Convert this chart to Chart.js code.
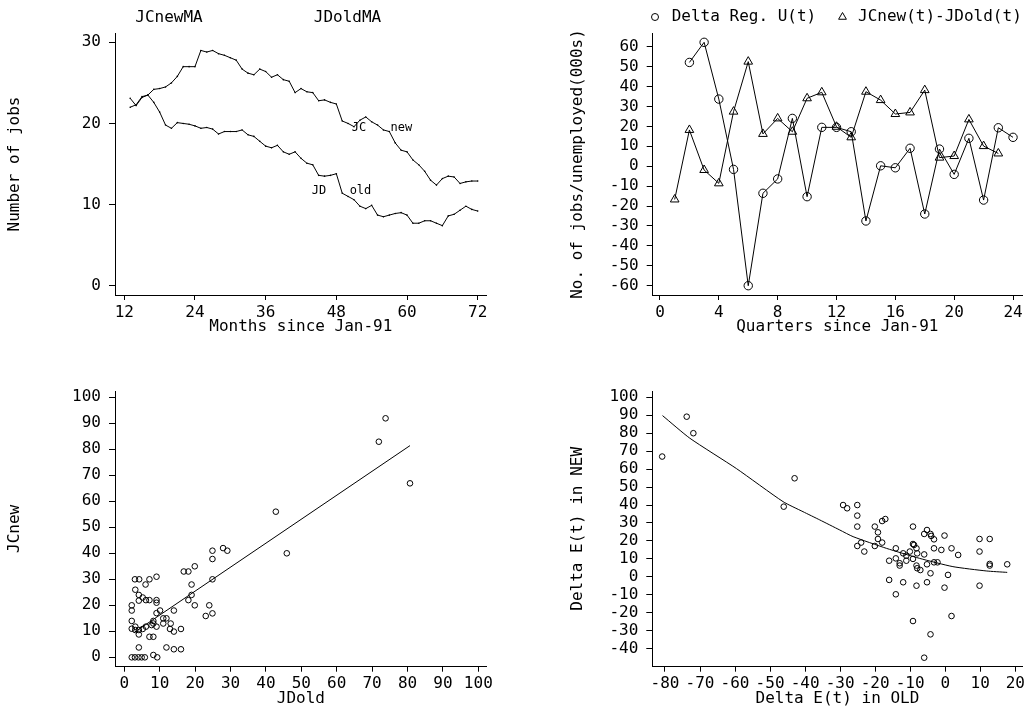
<!DOCTYPE html>
<html>
<head>
<meta charset="utf-8">
<script src="https://cdn.jsdelivr.net/npm/chart.js@4"></script>
<style>
  html, body { margin: 0; padding: 0; background: #fff; }
  #page { position: relative; width: 1028px; height: 711px; background: #fff; }
  canvas { position: absolute; }
</style>
</head>
<body>
<div id="page">
  <canvas id="maChart" width="514" height="355" style="left:0;top:0"></canvas>
  <canvas id="qChart" width="514" height="355" style="left:514px;top:0"></canvas>
  <canvas id="scatterChart" width="514" height="356" style="left:0;top:355px"></canvas>
  <canvas id="deltaChart" width="514" height="356" style="left:514px;top:355px"></canvas>
</div>
<script>
/* ── DATA ── */
// panel 1: moving averages by month
const months = [13,14,15,16,17,18,19,20,21,22,23,24,25,26,27,28,29,30,31,32,33,34,35,36,37,38,39,40,41,42,
                43,44,45,46,47,48,49,50,51,52,53,54,55,56,57,58,59,60,61,62,63,64,65,66,67,68,69,70,71,72];
const jcNewMA = [22.0,22.3,23.3,23.5,24.2,24.3,24.5,25.0,25.8,27.0,27.0,27.0,29.0,28.8,29.0,28.6,28.4,28.1,27.8,26.7,
                 26.2,26.0,26.7,26.4,25.7,26.0,25.4,25.2,23.8,24.3,23.9,23.8,22.8,22.9,22.6,22.4,20.3,20.0,19.6,20.4,
                 20.8,20.2,19.8,19.2,19.0,17.6,16.7,16.5,15.5,14.9,14.1,13.0,12.4,13.2,13.5,13.4,12.6,12.8,12.9,12.9];
const jdOldMA = [23.1,22.2,23.2,23.5,22.6,21.4,19.8,19.4,20.1,20.0,19.9,19.7,19.4,19.5,19.3,18.7,19.0,19.0,19.0,19.2,
                 18.6,18.4,17.8,17.2,17.0,17.3,16.5,16.2,16.5,15.7,15.1,14.9,13.6,13.5,13.6,13.8,11.4,11.0,10.6,9.8,
                 9.5,9.9,8.7,8.5,8.7,8.9,9.0,8.7,7.7,7.7,8.0,8.0,7.7,7.4,8.6,8.8,9.3,9.8,9.4,9.2];
const monthTicks = [12,24,36,48,60,72];
const jobsTicks = [0,10,20,30];
const maNotes = [["JC",51.85,19.4],["new",59.05,19.4],["JD",45.05,11.67],["old",52.1,11.67]];

// panel 2: quarterly
const quartersU = [2,3,4,5,6,7,8,9,10,11,12,13,14,15,16,17,18,19,20,21,22,23,24];
const deltaRegU = [52.1,62.2,33.7,-1.6,-60.0,-13.6,-6.4,24.0,-15.3,19.5,19.5,17.3,-27.5,0.2,-0.8,9.0,-24.0,8.6,-4.1,14.0,-17.0,19.3,14.5];
const quartersJ = [1,2,3,4,5,6,7,8,9,10,11,12,13,14,15,16,17,18,19,20,21,22,23];
const jcMinusJd = [-16.7,18.2,-1.9,-8.6,27.4,52.5,16.2,24.0,17.3,34.1,37.1,19.8,14.5,37.4,33.2,26.2,27.0,38.2,4.3,5.1,23.5,10.1,6.4];
const quarterTicks = [0,4,8,12,16,20,24];
const unempTicks = [-60,-50,-40,-30,-20,-10,0,10,20,30,40,50,60];

// panel 3: JCnew vs JDold
const jdOld = [3.0,4.2,7.1,9.1,6.0,3.1,4.1,5.2,4.1,6.1,7.1,9.1,9.1,2.1,2.1,10.1,9.1,14.0,2.1,2.1,
               3.1,3.1,4.1,4.1,5.2,6.1,8.2,8.2,7.7,9.1,11.0,11.9,11.0,13.1,12.9,14.0,16.0,7.1,8.2,4.1,
               11.9,14.0,16.0,8.2,9.3,2.1,3.0,4.0,4.9,5.8,16.8,18.1,19.9,19.0,19.0,18.1,19.9,24.9,24.9,27.9,
               29.1,24.9,24.0,23.0,24.9,42.8,45.9,73.8,71.9,80.7];
const jcNew = [30,30,30,31,28,26,24,23,21.8,22,22,22,21,20,18,18,17,18,14,11,
               11.8,10.5,10.5,8.8,10.9,11.8,14,13,12.4,11.8,15,15,13,13,10.9,9.9,10.9,7.9,7.9,3.8,
               3.8,3.1,3.1,0.9,0,0,0,0,0,0,33,33,35,28,24,22,20,41,37.8,42,
               41,30,20,15.9,16.9,56,40,91.9,82.9,66.9];
const fitOldX = [2.8, 80.7];
const fitNewY = [9.6, 81.4];
const hundredTicks = [0,10,20,30,40,50,60,70,80,90,100];

// panel 4: Delta E(t) NEW vs OLD
const deltaOld = [-80.8,-73.8,-71.9,-46.1,-43.0,
  -29.15,-28.0,-25.1,-25.1,-25.1,-25.1,-24.0,-23.1,-20.1,-19.2,-19.2,-18.0,-20.1,-18.0,-17.1,-16.0,-16.0,
  -14.1,-14.1,-13.0,-13.0,-14.1,-12.0,-12.0,-11.1,-11.1,-10.1,-9.2,-9.2,-8.9,-9.2,-8.2,-8.0,-8.2,-8.0,
  -7.1,-8.2,-9.2,-6.0,-5.2,-4.2,-4.0,-3.2,-6.0,-5.2,-3.2,-3.2,-2.2,-4.2,-5.2,-1.1,-0.2,0.8,-0.2,1.8,
  1.8,3.7,-4.2,-6.0,9.8,12.7,9.8,9.8,12.7,12.7,17.7];
const deltaNew = [67.0,89.2,80.0,39.1,54.9,
  40.0,38.2,40.0,34.1,28.0,17.2,19.1,14.1,28.0,24.8,21.1,19.1,17.2,31.1,32.2,9.0,-1.7,
  15.9,10.3,7.6,6.3,-9.7,13.1,-3.0,11.8,9.0,14.1,28.0,18.3,17.8,10.0,15.9,13.1,6.3,4.8,
  3.8,-4.9,-24.6,23.9,26.1,23.9,22.8,20.9,12.5,7.0,15.9,8.1,8.1,2.0,-3.0,15.0,23.0,1.1,-6.0,15.9,
  -21.8,12.2,-32.0,-45.0,21.1,21.1,14.1,-4.9,7.2,6.3,7.0];
const smoothOldX = [-80.7,-72.9,-59.6,-46.3,-40.6,-35.8,-30.1,-26.3,-16.8,-7.3,2.2,11.7,17.7];
const smoothNewY = [89.8,77.2,60.3,41.9,36.3,31.7,26.1,22.4,15.9,10.3,5.7,3.3,2.5];
const oldTicks = [-80,-70,-60,-50,-40,-30,-20,-10,0,10,20];
const newTicks = [-40,-30,-20,-10,0,10,20,30,40,50,60,70,80,90,100];

/* ── HELPERS ── */
const MONO = '"DejaVu Sans Mono", monospace';
const FONT = { family: MONO, size: 16 };
const pts = (xs, ys) => xs.map((x, i) => ({ x: x, y: ys[i] }));

function axis(o) {
  return {
    type: 'linear', min: o.min, max: o.max,
    border: { display: true, color: '#000', width: 1 },
    grid: { display: true, drawOnChartArea: false, drawTicks: true, tickLength: o.tickLength, color: '#000', lineWidth: 1 },
    ticks: { color: '#000', font: FONT, padding: o.pad, autoSkip: false, maxRotation: 0, minRotation: 0, callback: v => String(v) },
    title: { display: true, text: o.title, color: '#000', font: FONT, padding: o.titlePad },
    afterBuildTicks: s => { s.ticks = o.ticks.map(v => ({ value: v })); },
    afterFit: s => {
      if (o.width != null) s.width = o.width;
      if (o.height != null) s.height = o.height;
    }
  };
}

function drawMarker(ctx, style, x, y, r) {
  ctx.beginPath();
  if (style === 'triangle') {
    ctx.moveTo(x, y - r);
    ctx.lineTo(x + r * 0.866, y + r * 0.5);
    ctx.lineTo(x - r * 0.866, y + r * 0.5);
    ctx.closePath();
  } else {
    ctx.arc(x, y, r, 0, Math.PI * 2);
  }
  ctx.stroke();
}

// header texts / legends and notes inside the plot
const panelText = {
  id: 'panelText',
  afterDraw(chart, args, opts) {
    const ctx = chart.ctx;
    ctx.save();
    ctx.fillStyle = '#000'; ctx.strokeStyle = '#000'; ctx.lineWidth = 1;
    ctx.textBaseline = 'middle';
    (opts.header || []).forEach((h, i) => {
      const ds = chart.data.datasets[h.ds];
      ctx.font = '16px ' + MONO;
      ctx.textAlign = h.align || 'left';
      if (h.marker) drawMarker(ctx, h.marker, h.mx, h.y, h.mr);
      ctx.fillText(ds.label, h.x, h.y);
    });
    (opts.notes || []).forEach(n => {
      ctx.font = '12px ' + MONO;
      ctx.textAlign = 'center';
      ctx.fillText(n[0], chart.scales.x.getPixelForValue(n[1]), chart.scales.y.getPixelForValue(n[2]));
    });
    ctx.restore();
  }
};

const base = (padding) => ({
  responsive: false, animation: false,
  layout: { padding: padding },
  plugins: { legend: { display: false }, tooltip: { enabled: false } }
});

/* ── PANEL 1 ── */
new Chart(document.getElementById('maChart'), {
  type: 'line',
  data: {
    datasets: [
      { label: 'JCnewMA', data: pts(months, jcNewMA), borderColor: '#000', borderWidth: 1, pointRadius: 0.8,
        pointBackgroundColor: '#000', pointBorderWidth: 0, tension: 0 },
      { label: 'JDoldMA', data: pts(months, jdOldMA), borderColor: '#000', borderWidth: 1, pointRadius: 0.8,
        pointBackgroundColor: '#000', pointBorderWidth: 0, tension: 0 }
    ]
  },
  options: Object.assign(base({ left: 0, right: 27.3, top: 33, bottom: 0 }), {
    scales: {
      x: axis({ min: 10.42, max: 73.53, ticks: monthTicks, tickLength: 5, pad: 3, title: 'Months since Jan-91',
                titlePad: { top: 0, bottom: 18.4 }, height: 60 }),
      y: axis({ min: -1.15, max: 31.15, ticks: jobsTicks, tickLength: 6, pad: 8, title: 'Number of jobs',
                titlePad: { top: 5, bottom: 0 }, width: 115 })
    },
    plugins: {
      legend: { display: false }, tooltip: { enabled: false },
      panelText: {
        header: [{ ds: 0, x: 169, y: 18, align: 'center' }, { ds: 1, x: 347.5, y: 18, align: 'center' }],
        notes: maNotes
      }
    }
  }),
  plugins: [panelText]
});

/* ── PANEL 2 ── */
new Chart(document.getElementById('qChart'), {
  type: 'line',
  data: {
    datasets: [
      { label: 'Delta Reg. U(t)', data: pts(quartersU, deltaRegU), borderColor: '#000', borderWidth: 1,
        pointStyle: 'circle', pointRadius: 4.2, pointBorderColor: '#000', pointBackgroundColor: 'rgba(0,0,0,0)', pointBorderWidth: 1, tension: 0 },
      { label: 'JCnew(t)-JDold(t)', data: pts(quartersJ, jcMinusJd), borderColor: '#000', borderWidth: 1,
        pointStyle: 'triangle', pointRadius: 5, pointBorderColor: '#000', pointBackgroundColor: 'rgba(0,0,0,0)', pointBorderWidth: 1, tension: 0 }
    ]
  },
  options: Object.assign(base({ left: 49.4, right: 4.7, top: 33, bottom: 0 }), {
    scales: {
      x: axis({ min: -0.495, max: 24.61, ticks: quarterTicks, tickLength: 5, pad: 3, title: 'Quarters since Jan-91',
                titlePad: { top: 0, bottom: 18.4 }, height: 60 }),
      y: axis({ min: -64.67, max: 66.88, ticks: unempTicks, tickLength: 6, pad: 8, title: 'No. of jobs/unemployed(000s)',
                titlePad: { top: 5, bottom: 0 }, width: 89.3 })
    },
    plugins: {
      legend: { display: false }, tooltip: { enabled: false },
      panelText: {
        header: [{ ds: 0, x: 157.7, y: 17, marker: 'circle', mx: 141, mr: 3.5 },
                 { ds: 1, x: 344, y: 17, marker: 'triangle', mx: 328.5, mr: 4.5 }]
      }
    }
  }),
  plugins: [panelText]
});

/* ── PANEL 3 ── */
new Chart(document.getElementById('scatterChart'), {
  type: 'scatter',
  data: {
    datasets: [
      { label: 'JCnew', data: pts(jdOld, jcNew), pointStyle: 'circle', pointRadius: 2.8, pointBorderWidth: 1,
        pointBorderColor: '#000', pointBackgroundColor: 'rgba(0,0,0,0)' },
      { type: 'line', label: 'fit', data: pts(fitOldX, fitNewY), borderColor: '#000', borderWidth: 1, pointRadius: 0 }
    ]
  },
  options: Object.assign(base({ left: 0, right: 27.3, top: 36, bottom: 0 }), {
    scales: {
      x: axis({ min: -2.63, max: 102.37, ticks: hundredTicks, tickLength: 5, pad: 3, title: 'JDold',
                titlePad: { top: 0, bottom: 2.4 }, height: 44.3 }),
      y: axis({ min: -3.6, max: 102.4, ticks: hundredTicks, tickLength: 6, pad: 8, title: 'JCnew',
                titlePad: { top: 5, bottom: 0 }, width: 115 })
    }
  })
});

/* ── PANEL 4 ── */
new Chart(document.getElementById('deltaChart'), {
  type: 'scatter',
  data: {
    datasets: [
      { label: 'Delta E(t) in NEW', data: pts(deltaOld, deltaNew), pointStyle: 'circle', pointRadius: 2.8, pointBorderWidth: 1,
        pointBorderColor: '#000', pointBackgroundColor: 'rgba(0,0,0,0)' },
      { type: 'line', label: 'smooth', data: pts(smoothOldX, smoothNewY), borderColor: '#000', borderWidth: 1, pointRadius: 0, tension: 0.2 }
    ]
  },
  options: Object.assign(base({ left: 49.4, right: 5, top: 36, bottom: 0 }), {
    scales: {
      x: axis({ min: -83.62, max: 22.08, ticks: oldTicks, tickLength: 5, pad: 3, title: 'Delta E(t) in OLD',
                titlePad: { top: 0, bottom: 2.4 }, height: 44.3 }),
      y: axis({ min: -50.02, max: 103.5, ticks: newTicks, tickLength: 6, pad: 8, title: 'Delta E(t) in NEW',
                titlePad: { top: 5, bottom: 0 }, width: 88.9 })
    }
  })
});
</script>
</body>
</html>
